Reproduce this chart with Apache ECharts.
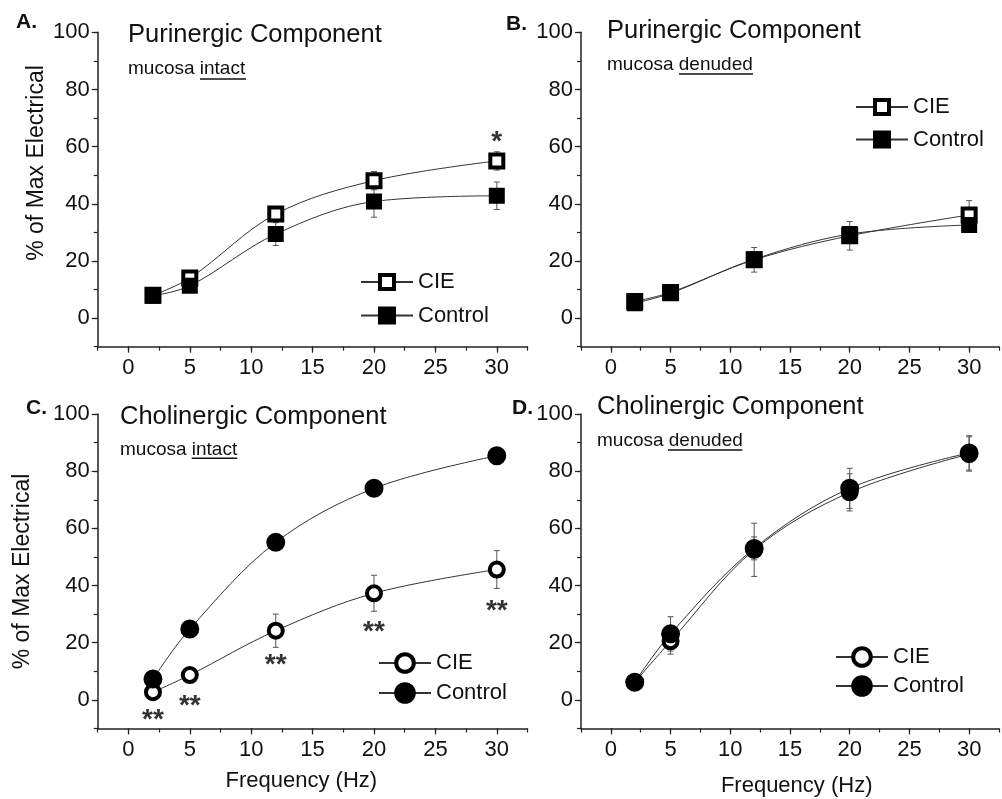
<!DOCTYPE html>
<html>
<head>
<meta charset="utf-8">
<script src="https://cdn.jsdelivr.net/npm/echarts@6/dist/echarts.min.js"></script>
<style>
  html, body { margin: 0; padding: 0; background: #fff; }
  #chart { width: 1002px; height: 799px; }
</style>
</head>
<body>
<div id="chart"></div>
<script>
// frequencies (Hz) and axis ticks
const freq = [2, 5, 12, 20, 30]
const xTicks = [0, 5, 10, 15, 20, 25, 30]
const yTicks = [0, 20, 40, 60, 80, 100]

// A. purinergic, mucosa intact
const purIntactCIE = [8.0, 14.0, 36.4, 48.1, 55.0]
const purIntactCIEErr = [0.8, 1.0, 2.0, 3.2, 3.2]
const purIntactCtl = [7.8, 11.3, 29.4, 40.8, 42.8]
const purIntactCtlErr = [0.8, 1.2, 4.0, 5.5, 4.8]

// B. purinergic, mucosa denuded
const purDenudCIE = [5.8, 9.0, 20.4, 28.8, 36.1]
const purDenudCIEErr = [0.8, 1.0, 4.3, 5.0, 5.0]
const purDenudCtl = [5.2, 8.7, 20.6, 29.4, 32.6]
const purDenudCtlErr = [0.8, 1.0, 2.0, 2.5, 2.3]

// C. cholinergic, mucosa intact
const choIntactCIE = [2.7, 8.7, 24.2, 37.3, 45.6]
const choIntactCIEErr = [1.5, 1.5, 5.8, 6.3, 6.6]
const choIntactCtl = [7.3, 24.8, 55.1, 74.0, 85.4]
const choIntactCtlErr = [1.0, 1.0, 1.0, 1.0, 1.0]

// D. cholinergic, mucosa denuded
const choDenudCIE = [6.2, 20.5, 52.5, 72.6, 86.0]
const choDenudCIEErr = [1.0, 4.5, 9.3, 6.5, 6.0]
const choDenudCtl = [6.2, 23.1, 53.0, 74.0, 86.4]
const choDenudCtlErr = [1.0, 6.0, 4.0, 7.0, 6.0]

// significance marks [freq, y position, text]
const sigA = [[30, 63.7, '*']]
const sigC = [[2, -4.9, '**'], [5, -0.2, '**'], [12, 14.3, '**'], [20, 25.9, '**'], [30, 33.2, '**']]

const FONT = '"Liberation Sans", Arial, Helvetica, sans-serif'
const INK = '#111'
const AXIS = '#222'

const chart = echarts.init(document.getElementById('chart'))

const grids = [
	{ left: 97.7, top: 32.3, width: 429.8, height: 314.4 },
	{ left: 581, top: 32.3, width: 428.5, height: 314.4 },
	{ left: 97.7, top: 414, width: 429.8, height: 314.5 },
	{ left: 581, top: 414, width: 428.5, height: 314.5 },
]

function xAxesFor(g) {
	return [
		{
			gridIndex: g, type: 'value', position: 'bottom', min: -2.5, max: 32.5, interval: 2.5,
			axisLine: { onZero: false, lineStyle: { color: AXIS, width: 1.5 } },
			axisTick: { length: 4, lineStyle: { color: AXIS, width: 1.2 } },
			axisLabel: {
				margin: 10, fontSize: 22, color: INK, fontFamily: FONT,
				formatter: (v) => (xTicks.indexOf(v) >= 0 ? String(v) : ''),
			},
			splitLine: { show: false },
		},
		{
			gridIndex: g, type: 'value', position: 'bottom', min: -2.5, max: 32.5,
			axisLine: { show: false, onZero: false },
			axisTick: { length: 6, customValues: xTicks, lineStyle: { color: AXIS, width: 1.2 } },
			axisLabel: { show: false },
			splitLine: { show: false },
		},
	]
}

function yAxesFor(g) {
	return [
		{
			gridIndex: g, type: 'value', position: 'left', min: -10, max: 100, interval: 10,
			axisLine: { show: true, onZero: false, lineStyle: { color: AXIS, width: 1.5 } },
			axisTick: { show: true, length: 4, lineStyle: { color: AXIS, width: 1.2 } },
			axisLabel: {
				margin: 8, fontSize: 22, color: INK, fontFamily: FONT,
				formatter: (v) => (yTicks.indexOf(v) >= 0 ? String(v) : ''),
			},
			splitLine: { show: false },
		},
		{
			gridIndex: g, type: 'value', position: 'left', min: -10, max: 100,
			axisLine: { show: false, onZero: false },
			axisTick: { show: true, length: 6, customValues: yTicks, lineStyle: { color: AXIS, width: 1.2 } },
			axisLabel: { show: false },
			splitLine: { show: false },
		},
	]
}

function errorBars(g, vals, errs) {
	return {
		type: 'custom',
		xAxisIndex: g * 2,
		yAxisIndex: g * 2,
		z: 1,
		silent: true,
		data: freq.map((f, i) => [f, vals[i] - errs[i], vals[i] + errs[i]]),
		renderItem: function (params, api) {
			const x = api.value(0)
			const lo = api.coord([x, api.value(1)])
			const hi = api.coord([x, api.value(2)])
			const w = 3
			const style = { stroke: '#555', lineWidth: 1 }
			return {
				type: 'group',
				children: [
					{ type: 'line', shape: { x1: lo[0], y1: lo[1], x2: hi[0], y2: hi[1] }, style: style },
					{ type: 'line', shape: { x1: lo[0] - w, y1: lo[1], x2: lo[0] + w, y2: lo[1] }, style: style },
					{ type: 'line', shape: { x1: hi[0] - w, y1: hi[1], x2: hi[0] + w, y2: hi[1] }, style: style },
				],
			}
		},
	}
}

function curve(g, name, vals, symbol, open) {
	let size = 13
	if (symbol === 'circle') size = open ? 14 : 16
	return {
		type: 'line',
		name: name,
		xAxisIndex: g * 2,
		yAxisIndex: g * 2,
		z: 3,
		smooth: 0.35,
		data: freq.map((f, i) => [f, vals[i]]),
		symbol: symbol,
		symbolSize: size,
		showAllSymbol: true,
		lineStyle: { color: '#333', width: 1 },
		itemStyle: { color: open ? '#fff' : '#000', borderColor: '#000', borderWidth: open ? 4 : 3 },
		emphasis: { disabled: true },
	}
}

function sigMarks(g, marks) {
	return {
		type: 'scatter',
		xAxisIndex: g * 2,
		yAxisIndex: g * 2,
		z: 4,
		silent: true,
		symbolSize: 1,
		itemStyle: { color: 'rgba(0,0,0,0)' },
		data: marks,
		label: {
			show: true, position: 'inside', offset: [0, 6],
			fontSize: 28, fontWeight: 'bold', color: '#000', fontFamily: FONT,
			formatter: (p) => p.data[2],
		},
	}
}

function legendFor(g, left, top, h, gap) {
	const tag = ' ' + 'ABCD'[g]
	return {
		data: ['CIE' + tag, 'Control' + tag],
		orient: 'vertical',
		left: left, top: top,
		padding: 0,
		itemWidth: 52, itemHeight: h, itemGap: gap,
		selectedMode: false,
		itemStyle: { borderWidth: 4 },
		textStyle: { fontSize: 22, color: INK, fontFamily: FONT },
		formatter: (n) => n.split(' ')[0],
	}
}

function panel(g, cie, cieErr, ctl, ctlErr, symbol) {
	const tag = ' ' + 'ABCD'[g]
	return [
		errorBars(g, cie, cieErr),
		errorBars(g, ctl, ctlErr),
		curve(g, 'CIE' + tag, cie, symbol, true),
		curve(g, 'Control' + tag, ctl, symbol, false),
	]
}

function label(text, x, y, size, weight) {
	return {
		type: 'text', x: x, y: y,
		style: { text: text, font: (weight || 'normal') + ' ' + size + 'px ' + FONT, fill: INK, align: 'left', verticalAlign: 'middle' },
	}
}

function underline(x1, x2, y) {
	return { type: 'line', shape: { x1: x1, y1: y, x2: x2, y2: y }, style: { stroke: INK, lineWidth: 1.5 } }
}

function vTitle(text, x, y) {
	return {
		type: 'text', x: x, y: y, rotation: Math.PI / 2,
		style: { text: text, font: '23px ' + FONT, fill: INK, align: 'center', verticalAlign: 'middle' },
	}
}

function hTitle(text, x, y) {
	return {
		type: 'text', x: x, y: y,
		style: { text: text, font: '22px ' + FONT, fill: INK, align: 'center', verticalAlign: 'middle' },
	}
}

const option = {
	backgroundColor: '#fff',
	animation: false,
	grid: grids,
	xAxis: [].concat(xAxesFor(0), xAxesFor(1), xAxesFor(2), xAxesFor(3)),
	yAxis: [].concat(yAxesFor(0), yAxesFor(1), yAxesFor(2), yAxesFor(3)),
	legend: [
		legendFor(0, 360, 271, 17.5, 11.5),
		legendFor(1, 855, 96, 17.5, 10.5),
		legendFor(2, 378, 652, 22, 8),
		legendFor(3, 835, 646, 22, 7),
	],
	series: [].concat(
		panel(0, purIntactCIE, purIntactCIEErr, purIntactCtl, purIntactCtlErr, 'rect'),
		panel(1, purDenudCIE, purDenudCIEErr, purDenudCtl, purDenudCtlErr, 'rect'),
		panel(2, choIntactCIE, choIntactCIEErr, choIntactCtl, choIntactCtlErr, 'circle'),
		panel(3, choDenudCIE, choDenudCIEErr, choDenudCtl, choDenudCtlErr, 'circle'),
		[sigMarks(0, sigA), sigMarks(2, sigC)]
	),
	graphic: [
		label('A.', 16, 22, 21, 'bold'),
		label('B.', 506, 24, 21, 'bold'),
		label('C.', 26, 408, 21, 'bold'),
		label('D.', 512, 408, 21, 'bold'),
		label('Purinergic Component', 128, 34.5, 25.5),
		label('Purinergic Component', 607, 31, 25.5),
		label('Cholinergic Component', 120, 416.5, 25.5),
		label('Cholinergic Component', 597, 407, 25.5),
		label('mucosa intact', 128, 68.5, 19),
		label('mucosa denuded', 607, 64.5, 19),
		label('mucosa intact', 120, 450, 19),
		label('mucosa denuded', 597, 441, 19),
		underline(200, 246, 79),
		underline(679, 753, 74),
		underline(191.7, 237.3, 458.3),
		underline(668, 742.3, 450),
		vTitle('% of Max Electrical', 36.7, 163),
		vTitle('% of Max Electrical', 22.5, 571.5),
		hTitle('Frequency (Hz)', 301.3, 781),
		hTitle('Frequency (Hz)', 796.7, 786),
	],
}

chart.setOption(option)
</script>
</body>
</html>
